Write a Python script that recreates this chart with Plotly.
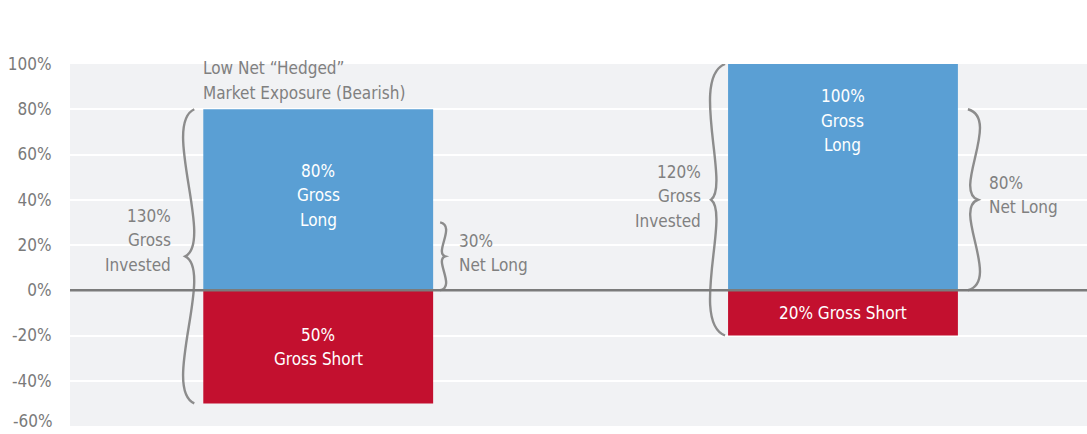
import plotly.graph_objects as go

# ---- data ----
scenarios = ["Bearish", "Bullish"]
x_pos = [0, 1]
gross_long = [80, 100]
gross_short = [-50, -20]
net_long = [gl + gs for gl, gs in zip(gross_long, gross_short)]        # 30, 80
gross_invested = [gl - gs for gl, gs in zip(gross_long, gross_short)]  # 130, 120

long_labels = [["80%", "Gross", "Long"], ["100%", "Gross", "Long"]]
short_labels = [["50%", "Gross Short"], ["20% Gross Short"]]
invested_labels = [["130%", "Gross", "Invested"], ["120%", "Gross", "Invested"]]
net_labels = [["30%", "Net Long"], ["80%", "Net Long"]]
title_labels = [["Low Net \u201cHedged\u201d", "Market Exposure (Bearish)"],
                ["80% Net Long", "Market Exposure (Bullish)"]]
y_ticks = [-40, -20, 0, 20, 40, 60, 80, 100]
y_bottom_tick = -60

# ---- style ----
BLUE = "#5a9fd4"
RED = "#c3102f"
GRAY = "#808080"
TICK_GRAY = "#7a7a7a"
BRACE = "#8c8c8c"
FONT = "Liberation Sans Narrow, DejaVu Sans Condensed, Roboto, sans-serif"
FS = 17
LINE_H = 24.5
BAR_W = 0.438
half = BAR_W / 2

fig = go.Figure()
fig.add_trace(go.Bar(x=x_pos, y=gross_long, width=BAR_W, marker=dict(color=BLUE, line=dict(width=0)),
                     name="Gross Long", hoverinfo="skip"))
fig.add_trace(go.Bar(x=x_pos, y=gross_short, width=BAR_W, marker=dict(color=RED, line=dict(width=0)),
                     name="Gross Short", hoverinfo="skip"))


def brace(anchor, y_top, y_bot, side, e, c1, c2, t):
    """Curly brace path: x in pixels relative to anchor (side -1 = left, +1 = right), y in data."""
    ym = (y_top + y_bot) / 2
    H1 = ym - y_top
    H2 = y_bot - ym
    s = side
    p = (f"M {s*e},{y_top} C {s*c1},{y_top + 0.1*H1} {s*c2},{y_top + 0.9*H1} {s*t},{ym} "
         f"C {s*c2},{ym + 0.1*H2} {s*c1},{ym + 0.9*H2} {s*e},{y_bot}")
    return dict(type="path", path=p, xref="x", yref="y", xsizemode="pixel", xanchor=anchor,
                line=dict(color=BRACE, width=2.4), layer="above")


shapes = []
shapes.append(brace(x_pos[0] - half, gross_long[0], gross_short[0], -1, 9, 41.8, -10.7, 18))
shapes.append(brace(x_pos[1] - half, gross_long[1], gross_short[1], -1, 3, 38.3, -2.0, 17))
shapes.append(brace(x_pos[0] + half, net_long[0], 0, 1, 7, 22.9, 0.9, 12))
shapes.append(brace(x_pos[1] + half, net_long[1], 0, 1, 10, 43.25, -5.5, 20))
shapes.append(dict(type="line", xref="paper", x0=0, x1=1, yref="y", y0=0, y1=0,
                   line=dict(color="#7b7b7b", width=2.5), layer="above"))
# grid line at the bottom tick (drawn by axis ticks otherwise)
fig.update_layout(shapes=shapes)

ann = []


def block(x, y, lines, xanchor, color, xshift=0):
    n = len(lines)
    for k, line in enumerate(lines):
        ann.append(dict(x=x, y=y, xshift=xshift, yshift=((n - 1) / 2 - k) * LINE_H, text=line,
                        showarrow=False, xanchor=xanchor, yanchor="middle",
                        font=dict(color=color, size=FS, family=FONT)))


long_y = [42, 75]
inv_y = [22, 41.5]
inv_shift = [-30, -25]
net_y = [16.4, 42]
net_shift = [24, 29]
title_y = [92.6, 114]
for i in range(2):
    block(x_pos[i], long_y[i], long_labels[i], "center", "white")
    block(x_pos[i], gross_short[i] / 2, short_labels[i], "center", "white")
    block(x_pos[i] - half, inv_y[i], invested_labels[i], "right", GRAY, inv_shift[i])
    block(x_pos[i] + half, net_y[i], net_labels[i], "left", GRAY, net_shift[i])
    block(x_pos[i] - half, title_y[i], title_labels[i], "left", GRAY, -2)

# bottom tick label, kept fully inside the picture
ann.append(dict(xref="paper", x=0, xshift=-15, y=y_bottom_tick, yref="y", yshift=-7,
                text=f"{y_bottom_tick}%", showarrow=False, xanchor="right", yanchor="bottom",
                font=dict(color=TICK_GRAY, size=17, family=FONT)))
fig.update_layout(annotations=ann)

fig.update_layout(
    width=1087, height=434,
    margin=dict(l=70, r=0, t=64, b=8, autoexpand=False),
    paper_bgcolor="white",
    plot_bgcolor="#f1f2f4",
    barmode="overlay",
    showlegend=False,
    font=dict(family=FONT, color=GRAY),
    xaxis=dict(range=[-0.473, 1.465], showgrid=False, zeroline=False, showticklabels=False,
               fixedrange=True, automargin=False),
    yaxis=dict(range=[y_bottom_tick, 100], tickvals=y_ticks, ticktext=[f"{v}%" for v in y_ticks],
               showgrid=True, gridcolor="white", gridwidth=1.5, zeroline=False,
               ticks="outside", ticklen=14, tickcolor="rgba(0,0,0,0)",
               automargin=False,
               tickfont=dict(size=17, color=TICK_GRAY, family=FONT), fixedrange=True),
)

fig.write_html("out.html")
